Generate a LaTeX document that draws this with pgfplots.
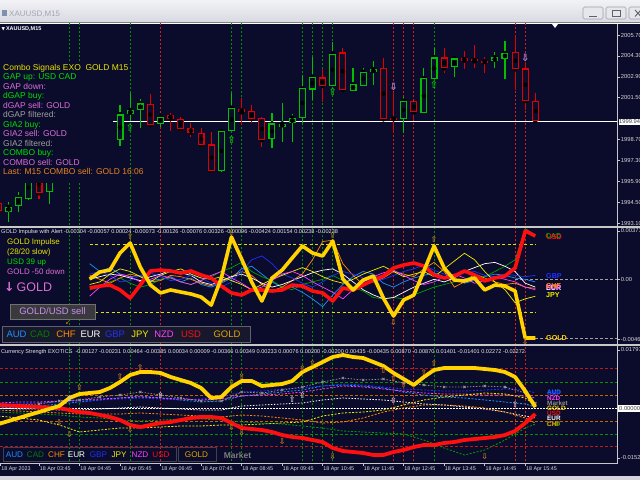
\documentclass[border=0pt]{standalone}
\usepackage{fontspec}
\setmainfont{Liberation Sans}
\newfontfamily\dejavu{DejaVu Sans}
\usepackage{pgfplots}
\usepackage{pgfplotstable}
\pgfplotsset{compat=1.18}
\newcommand\fs[1]{\fontsize{#1}{#1}\selectfont}
\definecolor{chartbg}{HTML}{0B0B2B}
\definecolor{cgreen}{HTML}{00C000}
\definecolor{cred}{HTML}{E00000}
\definecolor{vgreen}{HTML}{008C00}
\definecolor{vred}{HTML}{D02020}
\definecolor{axgray}{HTML}{C8C8C8}
\definecolor{lblgray}{HTML}{D8D8D8}
\definecolor{txtyellow}{HTML}{E6E600}
\definecolor{txtgreen}{HTML}{00E000}
\definecolor{txtorchid}{HTML}{DA70D6}
\definecolor{txtgray}{HTML}{A0A0A0}
\definecolor{txtorange}{HTML}{E8861E}
\definecolor{lavender}{HTML}{B48CDC}
\definecolor{audc}{HTML}{1E90FF}
\definecolor{cadc}{HTML}{00A000}
\definecolor{chfc}{HTML}{FF8C00}
\definecolor{gbpc}{HTML}{2030FF}
\definecolor{jpyc}{HTML}{F0F000}
\definecolor{nzdc}{HTML}{FF40FF}
\definecolor{usdc}{HTML}{FF1010}
\definecolor{goldc}{HTML}{FFD200}
\definecolor{goldtxt}{HTML}{E0A800}
\definecolor{arrowc}{HTML}{C07820}
\definecolor{tbtop}{HTML}{F2F2F6}
\definecolor{tbbot}{HTML}{D8DAE2}
\definecolor{mktgray}{HTML}{909090}
\definecolor{botstrip}{HTML}{D4D4DC}
\definecolor{tbtext}{HTML}{A4A6B4}
\definecolor{tbicon}{HTML}{8090B0}
\definecolor{btnborder}{HTML}{A0A0A8}
\definecolor{btnfill}{HTML}{E6E6EC}
\definecolor{btnsym}{HTML}{606068}
\definecolor{lvlyellow}{HTML}{E0E000}
\definecolor{lvlred}{HTML}{C01818}
\definecolor{lvlgreen}{HTML}{009000}
\definecolor{lvlorange}{HTML}{C86400}
\definecolor{arrowgray}{HTML}{C8C8D8}
\definecolor{boxtxt}{HTML}{404040}
\definecolor{hdrtxt}{HTML}{E8E8E8}
\definecolor{selborder}{HTML}{707070}
\definecolor{selfill}{HTML}{3A3A3E}
\definecolor{seltxt}{HTML}{C890F0}
\definecolor{smallarrow}{HTML}{C8A000}
\definecolor{legborder}{HTML}{606070}
\definecolor{legfill}{HTML}{18182C}
\definecolor{cadtxt}{HTML}{008000}
\definecolor{legtwoborder}{HTML}{404050}
\definecolor{markettxt}{HTML}{7C7C7C}

% ---------------- data ----------------
\pgfplotstableread{
k o h l c
-3 1993.86 1994.53 1993.19 1994.19
-2 1994.26 1995.20 1993.86 1994.82
-1 1994.71 1996.52 1994.67 1996.25
1 1995.16 1996.90 1994.37 1996.65
8 1998.66 2001.01 1998.26 2000.39
9 2000.39 2001.79 1999.94 2000.67
10 2000.67 2001.39 1999.45 2001.12
12 1999.72 2000.34 1999.51 2000.22
18 1996.61 1999.30 1996.50 1999.27
19 1999.27 2001.83 1999.25 2000.83
23 1998.71 2000.45 1998.11 1999.78
24 1999.56 2001.16 1998.55 1999.78
25 1999.78 2000.39 1998.55 2000.16
26 2000.16 2003.02 1999.78 2002.13
27 2002.06 2004.25 2001.34 2002.91
29 2002.30 2005.25 2002.28 2004.47
31 2001.97 2003.51 2001.97 2002.40
32 2002.30 2003.51 2002.28 2003.24
33 2003.20 2003.96 2002.35 2003.40
36 2000.05 2001.52 1999.11 2001.30
38 2000.45 2003.51 2000.45 2002.80
39 2002.73 2004.81 2002.73 2004.21
41 2003.53 2004.14 2002.91 2004.14
45 2003.96 2004.56 2003.47 2004.21
46 2004.14 2005.30 2002.73 2004.49
}\greenC
\pgfplotstableread{
k o h l c
-4 1994.46 1994.78 1993.70 1993.93
0 1996.25 1996.60 1994.69 1995.09
11 2001.08 2001.78 1999.62 1999.67
13 2000.34 2000.45 1999.29 2000.07
14 2000.07 2000.22 1999.22 1999.38
15 1999.45 1999.78 1998.88 1999.15
16 1999.15 1999.49 1998.21 1998.33
17 1998.38 1999.22 1996.54 1996.61
20 2000.74 2001.46 1999.67 2000.52
21 2000.61 2001.01 1999.78 2000.07
22 2000.16 2000.22 1998.21 1998.66
28 2002.87 2003.40 2001.23 2002.28
30 2004.54 2004.81 2001.90 2002.01
34 2003.51 2004.14 2000.00 2000.05
35 2000.16 2001.90 1999.15 2000.05
37 2001.26 2001.31 2000.00 2000.52
40 2004.21 2004.81 2003.17 2003.47
42 2004.14 2004.65 2003.40 2004.00
43 2004.09 2005.03 2003.47 2003.94
44 2003.98 2004.25 2003.17 2003.89
47 2004.54 2005.70 2002.01 2003.40
48 2003.47 2003.91 2000.67 2001.28
49 2001.30 2001.83 1999.78 1999.94
}\redC
% impulse (units of 1e-5)
\pgfplotstableread{
k gold usd aud cad chf eur gbp jpy nzd
5 2 -67 120 -80 30 0 40 -40 -130
6 56 -52 60 -60 0 20 60 -20 -60
7 71 -44 90 -20 -30 40 30 40 0
8 202 -82 40 10 10 30 -20 80 40
9 279 -144 20 -30 40 10 -10 60 20
10 94 -44 30 -60 20 -10 30 20 -20
11 -44 64 -10 -40 -20 20 50 -20 0
12 -105 71 0 0 -10 40 20 30 30
13 -82 64 20 10 30 70 -10 60 10
14 -98 48 -20 -20 20 50 0 80 -20
15 -113 64 10 -40 0 30 30 40 -40
16 -136 33 -40 -10 -30 -20 10 10 -10
17 -198 10 -60 20 -50 -40 -30 0 30
18 10 -52 -30 60 -20 -10 -60 20 60
19 325 -105 10 90 20 20 -20 -10 10
20 156 -121 80 130 60 40 60 -40 -30
21 -21 -82 100 60 30 10 150 -80 -80
22 -167 -82 40 20 -40 -30 180 -40 -60
23 10 -90 -20 -10 -90 -60 120 0 -10
24 71 -82 -60 -60 -60 -40 40 30 40
25 164 -44 -60 -80 -10 -10 10 60 60
26 256 -52 -100 -40 40 20 -30 90 30
27 202 -90 -150 -20 150 50 -60 60 -20
28 179 -105 -210 0 290 70 -20 20 -60
29 294 -167 -120 30 300 80 30 -10 -100
30 2 -67 -40 -10 120 40 60 -30 -150
31 -82 -82 20 -60 30 -20 40 0 -80
32 -6 -44 60 -90 -40 -80 10 40 -20
33 25 -6 40 -140 -20 -120 -20 70 20
34 -144 25 -30 -150 10 -150 0 100 50
35 -282 87 -60 -140 60 -140 30 60 70
36 -159 110 -20 -150 40 -100 60 20 30
37 -121 125 10 -120 20 -60 80 40 -10
38 64 102 30 -90 80 -30 110 60 -40
39 256 33 50 -60 130 0 70 20 -20
40 87 10 20 -40 60 -20 40 80 20
41 -6 25 0 -20 -60 10 20 140 40
42 -13 64 -30 0 -20 60 50 200 10
43 10 33 -10 30 40 90 60 150 -30
44 -82 -13 20 20 10 120 30 60 -10
45 -44 10 40 60 -20 130 20 -20 20
46 -52 25 30 100 -40 100 40 -80 0
47 -90 87 10 150 -30 60 30 -180 -20
48 -451 371 0 390 -60 -30 20 -150 -60
49 -451 333 -20 340 -70 -60 30 -130 -80
}\impT
% strength thick lines (units of 1e-3)
\pgfplotstableread{
k gold usd
-4 -4.79 1.06
-3 -3.86 0.90
-2 -2.94 0.75
-1 -2.02 0.60
0 -1.10 0.44
1 -0.17 0.29
2 0.75 0.13
3 3.21 -0.48
4 4.44 -1.10
5 4.75 -1.40
6 5.05 -2.02
7 6.28 -2.63
8 8.13 -3.56
9 10.28 -5.09
10 11.20 -5.71
11 11.20 -5.09
12 10.90 -4.48
13 9.67 -4.17
14 8.74 -3.56
15 7.82 -2.94
16 6.28 -2.63
17 3.21 -2.63
18 3.52 -2.94
19 6.59 -4.48
20 8.44 -6.02
21 8.44 -6.32
22 6.90 -6.63
23 7.21 -7.25
24 7.51 -8.17
25 8.44 -8.78
26 11.20 -9.09
27 12.74 -9.71
28 14.28 -10.32
29 15.82 -12.17
30 16.43 -13.09
31 15.82 -13.40
32 15.51 -13.70
33 14.28 -14.32
34 13.05 -14.32
35 10.90 -13.40
36 9.05 -12.78
37 7.21 -11.86
38 9.67 -11.24
39 11.82 -11.24
40 12.43 -10.63
41 12.43 -10.32
42 12.43 -9.71
43 12.43 -9.40
44 12.13 -9.09
45 11.82 -8.78
46 11.20 -8.17
47 9.67 -6.94
48 5.36 -4.48
49 0.44 -1.71
}\strT
\pgfplotstableread{
k mkt aud gbp nzd eur chf jpy cad
-4 0.75 0.13 1.37 1.68 0.13 -0.48 -2.33 -1.10
-2 1.06 0.44 1.37 1.98 -0.17 -0.79 -2.94 -1.40
0 1.37 0.75 1.68 1.98 -0.17 -1.10 -3.56 -1.71
2 2.29 1.37 1.98 2.29 -0.48 -1.40 -5.09 -2.02
4 2.60 1.98 2.29 2.60 -0.48 -1.71 -7.25 -2.63
6 3.52 2.60 2.60 2.90 -0.17 -1.71 -6.63 -2.94
8 4.13 3.21 2.90 3.21 0.13 -1.71 -6.02 -3.56
10 5.05 3.82 3.21 3.52 0.44 -1.40 -6.02 -3.86
12 4.13 3.21 2.90 3.21 0.13 -1.71 -5.71 -3.56
14 3.21 2.60 2.60 2.90 -0.17 -2.02 -5.40 -3.25
16 2.29 1.98 2.90 2.60 -0.48 -2.33 -5.40 -3.25
18 2.29 2.29 3.52 2.90 -0.48 -2.63 -5.09 -3.56
20 5.05 3.82 5.05 3.82 0.75 -2.02 -5.09 -4.17
22 4.75 4.44 5.36 4.13 1.06 -2.33 -4.79 -4.48
24 5.67 5.05 5.98 4.44 1.37 -2.94 -4.48 -4.79
26 6.59 5.67 6.28 5.05 1.68 -3.56 -4.17 -5.40
28 8.13 6.90 6.90 5.98 2.60 -4.48 -2.33 -6.02
30 9.36 7.21 7.51 6.90 3.21 -4.17 -1.40 -6.94
32 8.74 6.90 7.21 6.59 2.90 -2.94 -1.10 -7.25
34 9.05 6.28 6.59 5.98 2.60 -1.10 -0.48 -7.55
36 7.82 5.05 5.98 5.36 1.98 0.13 1.06 -7.86
38 7.21 4.13 5.67 4.75 1.37 1.06 2.60 -9.71
40 6.59 3.52 5.36 4.44 1.06 1.06 3.52 -12.17
42 6.59 3.21 5.36 4.44 0.44 0.75 4.13 -14.32
44 6.90 2.60 5.67 4.13 -0.17 0.13 4.75 -12.78
46 6.59 1.98 5.98 4.13 -1.10 -1.10 4.44 -9.71
48 4.75 1.37 5.67 3.82 -2.33 -2.94 3.21 -6.02
49 1.68 0.44 4.75 3.21 -2.94 -4.48 1.06 -4.79
}\thinT

\pgfplotsset{
 mt/.style={
  scale only axis, width=617bp, xmin=-3.85, xmax=57.06,
  anchor=north west, axis line style={draw=none},
  tick style={axgray, line width=0.6bp}, major tick length=2.5bp, tick align=outside,
  ytick pos=right, yticklabel pos=right,
  yticklabel style={font=\fs{5.8}, text=lblgray, inner sep=0pt, anchor=west, xshift=1.2bp},
  clip mode=individual,
 },
 vl/.style={line width=0.7bp, dash pattern=on 2bp off 2bp, forget plot},
 eb/.style={only marks, mark=none, forget plot},
}
\newcommand\vlines[2]{%
 \pgfplotsinvokeforeach{3,4,9,19,20,26,27,28,29,39}{\addplot[vl, vgreen] coordinates {(##1,#1) (##1,#2)};}
 \pgfplotsinvokeforeach{12,35,36,37,47,48}{\addplot[vl, vred] coordinates {(##1,#1) (##1,#2)};}
}
\newcommand\candles[2]{%
 \addplot[eb, error bars/.cd, y dir=both, y explicit, error mark=none, error bar style={#2, line width=1.1bp}]
  table[x=k, y=c, y error plus expr={\thisrow{h}-\thisrow{c}}, y error minus expr={\thisrow{c}-\thisrow{l}}] {#1};
 \addplot[eb, error bars/.cd, y dir=both, y explicit, error mark=none, error bar style={#2, line width=7bp}]
  table[x=k, y expr={(\thisrow{o}+\thisrow{c})/2}, y error expr={abs(\thisrow{c}-\thisrow{o})/2}] {#1};
 \addplot[eb, error bars/.cd, y dir=both, y explicit, error mark=none, error bar style={chartbg, line width=4.8bp}]
  table[x=k, y expr={(\thisrow{o}+\thisrow{c})/2}, y error expr={max(abs(\thisrow{c}-\thisrow{o})/2-0.075,0)}] {#1};
}
\newcommand\arrowmarks[4]{% glyph, colour, size, coordinates
 \addplot[only marks, color=#2, mark=text, text mark={\dejavu\bfseries #1}, text mark as node=true,
  text mark style={font=\fs{#3}, text=#2, inner sep=0pt}] coordinates {#4};
}

\begin{document}
\begin{tikzpicture}
\begin{scope}[x=1bp, y=-1bp]
% window
\shade[top color=tbtop, bottom color=tbbot] (0,0) rectangle (640,22);
\fill[chartbg] (0,22.5) rectangle (640,476);
\fill[botstrip] (0,476) rectangle (640,480);
\draw[gray, line width=0.8bp] (0,22.5) -- (640,22.5);
\draw[white, line width=0.6bp] (0,23.4) -- (640,23.4);
\fill[tbicon] (2,10) rectangle (7,16);
\node[anchor=base west, inner sep=0pt, text=tbtext, font=\fs{8}] at (9,16.2) {XAUUSD,M15};
\foreach \bx in {583,606,629}{\draw[btnborder, fill=btnfill, rounded corners=1.5bp, line width=0.6bp] (\bx,7) rectangle ++(20,12);}
\draw[btnsym, line width=0.9bp] (589,16) -- (597,16);
\draw[btnsym, line width=0.8bp] (612,10) rectangle (620,16.5);
\draw[btnsym, line width=0.9bp] (635,10) -- (641,16.5) (641,10) -- (635,16.5);
\end{scope}

% ---------------- main chart ----------------
\begin{axis}[mt, at={(0bp,-24bp)}, height=202bp, ymin=1992.90, ymax=2006.44,
  xtick=\empty,
  ytick={1993.1,1994.5,1995.9,1997.3,1998.7,2001.5,2002.9,2004.3,2005.7},
  yticklabels={1993.10,1994.50,1995.90,1997.30,1998.70,2001.50,2002.90,2004.30,2005.70}]
\vlines{1990}{2010}
\addplot[white, line width=1bp, forget plot] coordinates {(-3.85,1999.9) (57.06,1999.9)};
\candles{\greenC}{cgreen}
\candles{\redC}{cred}
\arrowmarks{⇧}{cgreen}{10}{(9,1999.47) (19,1998.66) (29,2001.88) (39,2002.35)}
\arrowmarks{⇩}{lavender}{10}{(35,2002.22) (48,2004.13)}
\end{axis}

% ---------------- impulse sub-window ----------------
\begin{axis}[mt, at={(0bp,-228bp)}, height=116bp, ymin=-497, ymax=394,
  xtick=\empty, ytick={371,0,-461}, yticklabels={0.00371,0.00,-0.00461}]
\vlines{-600}{500}
\addplot[lvlyellow, line width=0.8bp, dash pattern=on 3bp off 2.5bp, forget plot] coordinates {(5,269) (49,269)};
\addplot[lvlyellow, line width=0.8bp, dash pattern=on 3bp off 2.5bp, forget plot] coordinates {(5,-257) (49,-257)};
\addplot[txtgray, line width=0.7bp, dash pattern=on 3bp off 2bp, forget plot] coordinates {(47,0) (57.06,0)};
\addplot[txtgray, line width=0.7bp, dash pattern=on 3bp off 2bp, forget plot] coordinates {(49,-451) (57.06,-451)};
\addplot[audc, line width=0.7bp] table[x=k, y=aud] {\impT};
\addplot[cadc, line width=0.7bp] table[x=k, y=cad] {\impT};
\addplot[chfc, line width=0.7bp] table[x=k, y=chf] {\impT};
\addplot[white, line width=0.7bp] table[x=k, y=eur] {\impT};
\addplot[gbpc, line width=0.7bp] table[x=k, y=gbp] {\impT};
\addplot[jpyc, line width=0.7bp] table[x=k, y=jpy] {\impT};
\addplot[nzdc, line width=0.7bp] table[x=k, y=nzd] {\impT};
\addplot[usdc, line width=3.6bp, line join=round] table[x=k, y=usd] {\impT};
\addplot[goldc, line width=3.6bp, line join=round] table[x=k, y=gold] {\impT};
\arrowmarks{⇧}{arrowc}{8}{(9,325) (19,356) (29,340) (39,302)}
\arrowmarks{⇩}{arrowc}{8}{(35,-330) (48,-482)}
\end{axis}

% ---------------- strength sub-window ----------------
\begin{axis}[mt, at={(0bp,-346bp)}, height=117bp, ymin=-16.78, ymax=19.20,
  ytick={17.97,-15.24}, yticklabels={0.01797,-0.01524},
  xtick={-3.8,0,4,8,12,16,20,24,28,32,36,40,44,48},
  xticklabels={18 Apr 2023,18 Apr 03:45,18 Apr 04:45,18 Apr 05:45,18 Apr 06:45,18 Apr 07:45,18 Apr 08:45,18 Apr 09:45,18 Apr 10:45,18 Apr 11:45,18 Apr 12:45,18 Apr 13:45,18 Apr 14:45,18 Apr 15:45},
  xtick pos=bottom,
  xticklabel style={font=\fs{5.4}, text=lblgray, inner sep=0pt, anchor=north west, xshift=0.6bp, yshift=-0.8bp}]
\vlines{-20}{22}
\addplot[lvlred, line width=0.7bp, dash pattern=on 3bp off 2bp, forget plot] coordinates {(-3.85,12.2) (57.06,12.2)};
\addplot[lvlred, line width=0.7bp, dash pattern=on 3bp off 2bp, forget plot] coordinates {(-3.85,-11.8) (57.06,-11.8)};
\addplot[lvlgreen, line width=0.7bp, dash pattern=on 3bp off 2bp, forget plot] coordinates {(-3.85,7.9) (57.06,7.9)};
\addplot[lvlgreen, line width=0.7bp, dash pattern=on 3bp off 2bp, forget plot] coordinates {(-3.85,-8.1) (57.06,-8.1)};
\addplot[lvlorange, line width=0.7bp, dash pattern=on 3bp off 2bp, forget plot] coordinates {(-3.85,3.9) (57.06,3.9)};
\addplot[lvlorange, line width=0.7bp, dash pattern=on 3bp off 2bp, forget plot] coordinates {(-3.85,-3.9) (57.06,-3.9)};
\addplot[white, line width=0.9bp, dash pattern=on 1.5bp off 1.5bp, forget plot] coordinates {(-3.85,0) (57.06,0)};
\addplot[audc, line width=0.8bp, dash pattern=on 2bp off 1.5bp] table[x=k, y=aud] {\thinT};
\addplot[gbpc, line width=0.8bp, dash pattern=on 2bp off 1.5bp] table[x=k, y=gbp] {\thinT};
\addplot[nzdc, line width=0.8bp, dash pattern=on 2bp off 1.5bp] table[x=k, y=nzd] {\thinT};
\addplot[white, line width=0.8bp, dash pattern=on 1.5bp off 1.5bp] table[x=k, y=eur] {\thinT};
\addplot[chfc, line width=0.8bp, dash pattern=on 2bp off 1.5bp] table[x=k, y=chf] {\thinT};
\addplot[jpyc, line width=0.8bp, dash pattern=on 2bp off 1.5bp] table[x=k, y=jpy] {\thinT};
\addplot[cadc, line width=0.8bp, dash pattern=on 2bp off 1.5bp] table[x=k, y=cad] {\thinT};
\addplot[mktgray, line width=0.8bp, dash pattern=on 1.5bp off 1.5bp, mark=x, mark size=1.6bp, mark options={solid, line width=0.8bp}] table[x=k, y=mkt] {\thinT};
\addplot[usdc, line width=3.8bp, line join=round] table[x=k, y=usd] {\strT};
\addplot[goldc, line width=3.8bp, line join=round] table[x=k, y=gold] {\strT};
\arrowmarks{⇧}{arrowc}{8}{(4,6.59) (8,9.67) (10,12.74) (19,8.13) (20,9.67) (26,12.43) (27,13.97) (34,11.82) (35,9.36) (36,7.21) (38,10.90) (39,13.97)}
\arrowmarks{⇩}{arrowc}{8}{(2,-4.48) (3,-8.17) (9,-6.63) (19,-6.02) (20,-7.55) (24,-10.32) (29,-14.93) (44,-14.93)}
\arrowmarks{⇧}{arrowgray}{8}{(3,3.21) (12,4.13) (25,2.60) (26,4.13) (35,2.29) (47,1.06)}
\end{axis}

\begin{scope}[x=1bp, y=-1bp]
% ---------------- overlays: main ----------------
\fill[chartbg] (0,63) rectangle (113,183);
\node[anchor=base west, inner sep=0pt, text=white, font=\fs{5.5}\bfseries] at (1.5,30.3) {{\dejavu\fs{4.5}▼}\,XAUUSD,M15};
\fill[white] (552,24) -- (558,24) -- (555,28) -- cycle;
\begin{scope}[every node/.style={anchor=base west, inner sep=0pt, font=\fs{8.5}}]
\node[text=txtyellow] at (3,70.8) {Combo Signals EXO\ \ GOLD M15};
\node[text=txtgreen] at (3,79.8) {GAP up: USD CAD};
\node[text=txtorchid] at (3,89.3) {GAP down:};
\node[text=txtgreen] at (3,98.8) {dGAP buy:};
\node[text=txtorchid] at (3,108.3) {dGAP sell: GOLD};
\node[text=txtgray] at (3,117.8) {dGAP filtered:};
\node[text=txtgreen] at (3,127.3) {GIA2 buy:};
\node[text=txtorchid] at (3,136.8) {GIA2 sell: GOLD};
\node[text=txtgray] at (3,146.3) {GIA2 filtered:};
\node[text=txtgreen] at (3,155.8) {COMBO buy:};
\node[text=txtorchid] at (3,165.3) {COMBO sell: GOLD};
\node[text=txtorange] at (3,174.8) {Last: M15 COMBO sell: GOLD 16:06};
\end{scope}
\node[anchor=west, fill=white, inner sep=0.7bp, text=boxtxt, font=\fs{5.8}] at (618.3,122) {1999.94};

% ---------------- overlays: impulse ----------------
\node[anchor=base west, inner sep=0pt, text=hdrtxt, font=\fs{5.6}] at (1,233) {GOLD Impulse with Alert -0.00304 -0.00057 0.00024 -0.00073 -0.00126 -0.00076 0.00326 -0.00096 -0.00424 0.00154 0.00238 -0.00238};
\begin{scope}[every node/.style={anchor=base west, inner sep=0pt, font=\fs{8}}]
\node[text=txtyellow] at (7,244.6) {GOLD Impulse};
\node[text=txtyellow] at (7,254.6) {(28/20 slow)};
\node[text=txtgreen] at (7,264.6) {USD 39 up};
\node[text=txtorchid] at (7,274.6) {GOLD -50 down};
\end{scope}
\node[anchor=base west, inner sep=0pt, text=txtorchid, font=\fs{12.5}] at (4,291.2) {{\dejavu\bfseries ↓}\,GOLD};
\draw[selborder, fill=selfill, line width=0.6bp] (10,304) rectangle (95,319);
\node[text=seltxt, font=\fs{9.5}, inner sep=0pt] at (52.5,311.5) {GOLD/USD sell};
\node[text=smallarrow, font=\fs{6}, inner sep=0pt] at (68,323) {\dejavu ↙};
\draw[legborder, fill=legfill, line width=0.6bp] (2,326.5) rectangle (250,342.5);
\begin{scope}[every node/.style={inner sep=0pt, font=\fs{9.5}}]
\node[text=audc] at (16.5,334.5) {AUD};
\node[text=cadtxt] at (40,334.5) {CAD};
\node[text=chfc] at (66,334.5) {CHF};
\node[text=white] at (90.5,334.5) {EUR};
\node[text=gbpc] at (115,334.5) {GBP};
\node[text=jpyc] at (140,334.5) {JPY};
\node[text=nzdc] at (164,334.5) {NZD};
\node[text=usdc] at (191,334.5) {USD};
\node[text=goldtxt] at (227,334.5) {GOLD};
\end{scope}
\begin{scope}[every node/.style={anchor=west, inner sep=0pt, font=\fs{7.2}\bfseries}]
\node[text=cadc] at (545.5,236) {CAD};
\node[text=usdc] at (546.5,237) {USD};
\node[text=gbpc] at (546,276.5) {GBP};
\node[text=white] at (546,288) {EUR};
\node[text=nzdc] at (546,287) {NZD};
\node[text=chfc] at (546,286) {CHF};
\node[text=jpyc] at (546,295.5) {JPY};
\node[text=goldc] at (546,338.5) {GOLD};
\end{scope}

% ---------------- overlays: strength ----------------
\node[anchor=base west, inner sep=0pt, text=hdrtxt, font=\fs{5.6}] at (1,353) {Currency Strength EXOTICS\ \ -0.00127 -0.00231 0.00464 -0.00385 0.00034 0.00009 -0.00366 0.00349 0.00233 0.00076 0.00200 -0.00200 0.00435 -0.00435 0.00870 -0.00870 0.01401 -0.01401 0.02272 -0.02272};
\draw[legtwoborder, line width=0.6bp] (3,447.5) rectangle (176,461);
\draw[legtwoborder, line width=0.6bp] (178,447.5) rectangle (216,461);
\begin{scope}[every node/.style={inner sep=0pt, font=\fs{8.2}}]
\node[text=audc] at (14.5,454.5) {AUD};
\node[text=cadtxt] at (35.5,454.5) {CAD};
\node[text=chfc] at (56.5,454.5) {CHF};
\node[text=white] at (76.5,454.5) {EUR};
\node[text=gbpc] at (98.5,454.5) {GBP};
\node[text=jpyc] at (119,454.5) {JPY};
\node[text=nzdc] at (140,454.5) {NZD};
\node[text=usdc] at (161,454.5) {USD};
\node[text=goldtxt] at (196.5,454.5) {GOLD};
\node[text=markettxt, font=\fs{8.5}\bfseries] at (237.5,455) {Market};
\end{scope}
\begin{scope}[every node/.style={anchor=west, inner sep=0pt, font=\fs{6.4}\bfseries}]
\node[text=audc] at (547,392) {AUD};
\node[text=gbpc] at (547,393) {GBP};
\node[text=nzdc] at (547,398) {NZD};
\node[text=mktgray] at (547,403) {Market};
\node[text=goldc] at (547,408) {GOLD};
\node[text=usdc] at (547,413) {USD};
\node[text=white] at (547,418) {EUR};
\node[text=cadc] at (546.5,424.5) {CAD};
\node[text=chfc] at (547,424) {CHF};
\end{scope}
\node[anchor=west, draw=white, fill=white, inner sep=0.7bp, text=boxtxt, font=\fs{5.8}] at (618.3,408.4) {0.00000};

% frame / separators
\fill[axgray] (0,226) rectangle (640,227.6);
\fill[axgray] (0,344) rectangle (640,345.6);
\draw[axgray, line width=1bp] (0,463) -- (617.5,463);
\draw[axgray, line width=1bp] (617.5,24) -- (617.5,463);
\end{scope}
\pgfresetboundingbox
\useasboundingbox (0bp,0bp) rectangle (640bp,-480bp);
\end{tikzpicture}
\end{document}
